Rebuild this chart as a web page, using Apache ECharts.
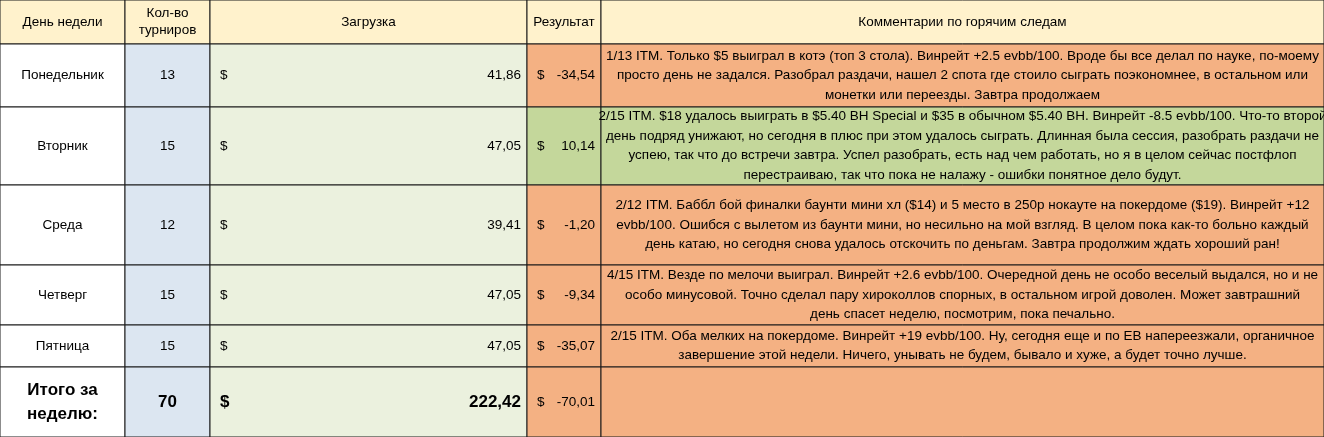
<!DOCTYPE html>
<html>
<head>
<meta charset="UTF-8">
<title>Итоги недели</title>
<script src="https://cdn.jsdelivr.net/npm/echarts@6/dist/echarts.min.js"></script>
<style>html,body{margin:0;padding:0;background:#fff}#main{width:1324px;height:437px}</style>
</head>
<body>
<div id="main"></div>
<script>
var days = ['Понедельник', 'Вторник', 'Среда', 'Четверг', 'Пятница'];
var tournaments = [13, 15, 12, 15, 15];
var load = [41.86, 47.05, 39.41, 47.05, 47.05];
var result = [-34.54, 10.14, -1.20, -9.34, -35.07];
var comments = [
  '1/13 ITM. Только $5 выиграл в котэ (топ 3 стола). Винрейт +2.5 evbb/100. Вроде бы все делал по науке, по-моему\nпросто день не задался. Разобрал раздачи, нашел 2 спота где стоило сыграть поэкономнее, в остальном или\nмонетки или переезды. Завтра продолжаем',
  '2/15 ITM. $18 удалось выиграть в $5.40 BH Special и $35 в обычном $5.40 BH. Винрейт -8.5 evbb/100. Что-то второй\nдень подряд унижают, но сегодня в плюс при этом удалось сыграть. Длинная была сессия, разобрать раздачи не\nуспею, так что до встречи завтра. Успел разобрать, есть над чем работать, но я в целом сейчас постфлоп\nперестраиваю, так что пока не налажу - ошибки понятное дело будут.',
  '2/12 ITM. Баббл бой финалки баунти мини хл ($14) и 5 место в 250р нокауте на покердоме ($19). Винрейт +12\nevbb/100. Ошибся с вылетом из баунти мини, но несильно на мой взгляд. В целом пока как-то больно каждый\nдень катаю, но сегодня снова удалось отскочить по деньгам. Завтра продолжим ждать хороший ран!',
  '4/15 ITM. Везде по мелочи выиграл. Винрейт +2.6 evbb/100. Очередной день не особо веселый выдался, но и не\nособо минусовой. Точно сделал пару хироколлов спорных, в остальном игрой доволен. Может завтрашний\nдень спасет неделю, посмотрим, пока печально.',
  '2/15 ITM. Оба мелких на покердоме. Винрейт +19 evbb/100. Ну, сегодня еще и по ЕВ напереезжали, органичное\nзавершение этой недели. Ничего, унывать не будем, бывало и хуже, а будет точно лучше.'
];
var headers = ['День недели', 'Кол-во\nтурниров', 'Загрузка', 'Результат', 'Комментарии по горячим следам'];
var totalLabel = 'Итого за\nнеделю:';

// layout (pixels)
var colX = [0, 125, 210, 527, 601, 1324];
var rowY = [0, 44, 107, 185, 265, 325, 367, 437];

function fmt(v) { return v.toFixed(2).replace('.', ','); }

var cells = [];
function addCell(r, c, o) {
  cells.push(Object.assign({ value: [colX[c], rowY[r], colX[c + 1], rowY[r + 1]] }, o));
}
var FONT = '"Liberation Sans Narrow", "Liberation Sans", sans-serif';
headers.forEach(function (h, c) {
  addCell(0, c, { fill: '#fff2cc', text: h, align: 'center' });
});
var totT = 0, totL = 0, totR = 0;
days.forEach(function (d, i) {
  var r = i + 1, pos = result[i] >= 0;
  totT += tournaments[i]; totL += load[i]; totR += result[i];
  addCell(r, 0, { fill: '#ffffff', text: d, align: 'center' });
  addCell(r, 1, { fill: '#dce6f1', text: String(tournaments[i]), align: 'center' });
  addCell(r, 2, { fill: '#ebf1de', text: fmt(load[i]), align: 'right', dollar: true });
  addCell(r, 3, { fill: pos ? '#c4d79b' : '#f4b183', text: fmt(result[i]), align: 'right', dollar: true });
  addCell(r, 4, { fill: pos ? '#c4d79b' : '#f4b183', text: comments[i], align: 'center', small: true });
});
addCell(6, 0, { fill: '#ffffff', text: totalLabel, align: 'center', bold: true });
addCell(6, 1, { fill: '#dce6f1', text: String(totT), align: 'center', bold: true });
addCell(6, 2, { fill: '#ebf1de', text: fmt(totL), align: 'right', dollar: true, bold: true });
addCell(6, 3, { fill: '#f4b183', text: fmt(totR), align: 'right', dollar: true });
addCell(6, 4, { fill: '#f4b183', text: '', align: 'center' });

var chart = echarts.init(document.getElementById('main'));
chart.setOption({
  animation: false,
  grid: { left: 0, right: 0, top: 0, bottom: 0 },
  xAxis: { type: 'value', min: 0, max: 1324, show: false },
  yAxis: { type: 'value', min: 0, max: 437, inverse: true, show: false },
  series: [{
    type: 'custom',
    data: cells,
    renderItem: function (params, api) {
      var d = cells[params.dataIndex];
      var p0 = api.coord([api.value(0), api.value(1)]);
      var p1 = api.coord([api.value(2), api.value(3)]);
      var w = p1[0] - p0[0], h = p1[1] - p0[1];
      var size = d.bold ? 17 : 13.5;
      var children = [{
        type: 'rect', shape: { x: p0[0], y: p0[1], width: w, height: h },
        style: { fill: d.fill, stroke: '#1a1a1a', lineWidth: 1 }
      }];
      var tx = d.align === 'right' ? p1[0] - 6 : p0[0] + w / 2;
      children.push({
        type: 'text', x: tx, y: p0[1] + h / 2,
        style: {
          text: d.text, align: d.align, verticalAlign: 'middle',
          font: (d.bold ? 'bold ' : '') + size + 'px ' + FONT,
          lineHeight: d.small ? 19.5 : (d.bold ? 24 : 17), fill: '#000'
        }
      });
      if (d.dollar) {
        children.push({
          type: 'text', x: p0[0] + 10, y: p0[1] + h / 2,
          style: { text: '$', align: 'left', verticalAlign: 'middle',
            font: (d.bold ? 'bold ' : '') + size + 'px ' + FONT, fill: '#000' }
        });
      }
      return { type: 'group', children: children };
    }
  }]
});
</script>
</body>
</html>
